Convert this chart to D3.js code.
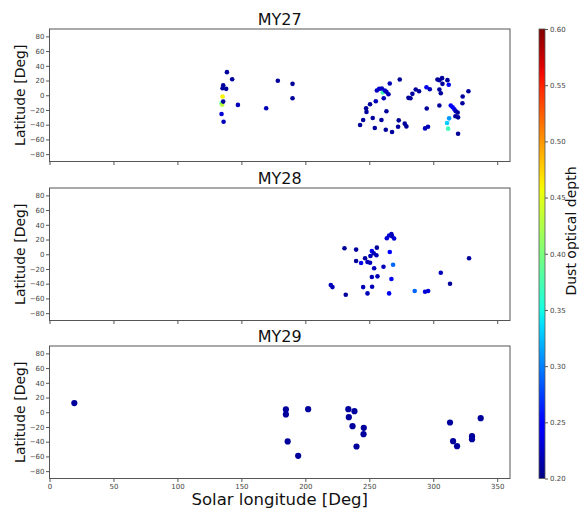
<!DOCTYPE html>
<html>
<head>
<meta charset="utf-8">
<script src="https://cdn.jsdelivr.net/npm/d3@7"></script>
<style>
  html, body { margin: 0; padding: 0; background: #fff; }
  svg { display: block; font-family: "DejaVu Sans", sans-serif; }
</style>
</head>
<body>
<svg id="chart" width="579" height="510"></svg>
<script>
// ---------- data ----------
const panelTitles = ["MY27", "MY28", "MY29"];
const xTicks = [0, 50, 100, 150, 200, 250, 300, 350];
const yTicks = [-80, -60, -40, -20, 0, 20, 40, 60, 80];
const cTicks = [0.20, 0.25, 0.30, 0.35, 0.40, 0.45, 0.50, 0.55, 0.60];

const lon27 = [138.7,142.8,135.8,135.3,138.1,135.3,134.5,135.0,135.8,147.3,134.5,136.1,178.5,190.0,190.0,169.4,
  273.8,266.0,260.5,255.9,257.7,259.8,262.1,263.4,265.0,261.3,255.1,250.6,247.5,247.8,263.4,245.2,242.8,252.7,259.5,
  254.3,262.9,267.8,272.5,273.0,277.7,279.0,280.6,282.2,283.7,286.3,288.9,294.7,297.3,294.9,293.6,295.9,
  303.3,304.8,306.9,311.1,307.2,312.1,304.8,305.9,304.8,327.5,323.0,322.8,313.7,315.2,316.5,317.6,319.1,317.3,319.4,
  312.4,310.8,311.6,319.4];
const lat27 = [31.4,21.8,13.6,9.5,8.7,-1.8,-10.9,-12.7,-8.6,-13.1,-25.4,-35.9,19.6,15.5,-4.1,-17.7,
  21.4,16.0,3.7,6.4,8.7,9.1,6.4,4.6,1.4,-4.1,-8.2,-12.3,-17.7,-22.6,-21.8,-33.6,-40.4,-30.9,-33.6,
  -44.5,-46.8,-50.0,-42.7,-34.1,-38.6,-42.3,-3.5,-4.1,1.9,7.8,5.5,10.9,8.2,-18.1,-45.0,-42.7,
  21.4,20.5,23.2,20.5,15.5,14.2,7.8,2.7,-14.0,5.5,-1.8,-10.9,-14.0,-16.4,-19.1,-21.8,-23.6,-28.6,-30.0,
  -31.4,-37.7,-45.4,-52.2];
const tau27 = [0.21,0.21,0.21,0.21,0.21,0.46,0.38,0.43,0.21,0.22,0.23,0.22,0.21,0.21,0.21,0.22,
  0.21,0.22,0.37,0.22,0.23,0.22,0.23,0.22,0.22,0.22,0.22,0.21,0.21,0.21,0.21,0.21,0.21,0.21,0.21,
  0.21,0.21,0.21,0.21,0.21,0.21,0.21,0.21,0.21,0.21,0.21,0.21,0.24,0.22,0.21,0.22,0.22,
  0.21,0.21,0.21,0.21,0.21,0.245,0.21,0.21,0.21,0.21,0.21,0.21,0.245,0.245,0.24,0.22,0.21,0.21,0.21,
  0.31,0.33,0.37,0.21];

const lon28 = [230.6,239.7,239.7,243.6,246.7,248.6,250.6,250.9,252.0,253.5,255.6,255.9,253.8,252.0,256.4,261.1,
  263.7,265.5,267.3,267.8,269.4,266.0,268.6,267.3,265.5,252.2,248.6,245.2,231.6,219.9,221.2,285.5,293.6,296.0,
  305.9,313.1,328.0];
const lat28 = [8.2,6.3,-9.1,-11.9,-5.5,-10.5,-11.5,-2.3,4.5,1.4,-1.4,9.0,-19.1,-31.0,-30.0,-16.9,
  21.8,25.4,27.3,24.6,21.3,3.1,-14.2,-33.7,-53.2,-44.2,-53.2,-44.6,-55.1,-41.9,-44.6,-50.0,-51.0,-50.0,
  -25.1,-40.1,-5.5];
const tau28 = [0.21,0.21,0.21,0.24,0.21,0.22,0.22,0.22,0.24,0.22,0.22,0.21,0.22,0.22,0.22,0.22,
  0.23,0.23,0.22,0.22,0.23,0.245,0.29,0.24,0.24,0.22,0.22,0.22,0.21,0.22,0.22,0.29,0.23,0.23,
  0.22,0.21,0.21];

const lon29 = [19.4,184.8,184.8,186.2,194.4,202.2,233.6,238.4,234.0,236.9,245.7,245.5,240.0,313.1,315.5,318.6,330.3,330.3,337.1];
const lat29 = [12.4,3.8,-3.0,-39.7,-59.2,4.2,4.2,1.5,-6.7,-18.9,-21.1,-29.8,-46.5,-13.9,-39.3,-46.1,-32.5,-36.6,-8.0];
const tau29 = [0.21,0.21,0.21,0.21,0.21,0.21,0.21,0.21,0.21,0.21,0.21,0.21,0.21,0.21,0.21,0.21,0.21,0.21,0.21];

const panels = [
  { title: panelTitles[0], lon: lon27, lat: lat27, tau: tau27, r: 2.3 },
  { title: panelTitles[1], lon: lon28, lat: lat28, tau: tau28, r: 2.3 },
  { title: panelTitles[2], lon: lon29, lat: lat29, tau: tau29, r: 3.1 }
];

// ---------- jet colormap ----------
const jetR = d3.scaleLinear().domain([0, 0.35, 0.66, 0.89, 1]).range([0, 0, 1, 1, 0.5]).clamp(true);
const jetG = d3.scaleLinear().domain([0, 0.125, 0.375, 0.64, 0.91, 1]).range([0, 0, 1, 1, 0, 0]).clamp(true);
const jetB = d3.scaleLinear().domain([0, 0.11, 0.34, 0.65, 1]).range([0.5, 1, 1, 0, 0]).clamp(true);
function jet(t) {
  return d3.rgb(jetR(t) * 255, jetG(t) * 255, jetB(t) * 255).formatHex();
}
const cNorm = d3.scaleLinear().domain([0.2, 0.6]).range([0, 1]).clamp(true);
const color = v => jet(cNorm(v));

// ---------- layout ----------
const svg = d3.select("#chart");
const left = 49.5, right = 510;
const panelTops = [29, 188, 346];
const panelH = 132.5;
const x = d3.scaleLinear().domain([0, 360]).range([left, right]);
const fmt = d => (d < 0 ? "\u2212" + Math.abs(d) : String(d));
const axisColor = "#555";
const tickFont = 7;

panels.forEach((p, i) => {
  const top = panelTops[i];
  const y = d3.scaleLinear().domain([-90, 90]).range([top + panelH, top]);
  const g = svg.append("g");

  // points
  const data = p.lon.map((lo, k) => ({ lon: lo, lat: p.lat[k], tau: p.tau[k] }));
  g.append("g").selectAll("circle").data(data).join("circle")
    .attr("cx", d => x(d.lon))
    .attr("cy", d => y(d.lat))
    .attr("r", p.r)
    .attr("fill", d => color(d.tau));

  // y axis
  const ya = g.append("g").attr("transform", `translate(${left},0)`)
    .call(d3.axisLeft(y).tickValues(yTicks).tickFormat(fmt).tickSize(3.5).tickPadding(1.5));
  ya.select(".domain").remove();
  ya.selectAll("line").attr("stroke", axisColor);
  ya.selectAll("text").attr("font-size", tickFont).attr("fill", "#444")
    .attr("font-family", "DejaVu Sans, sans-serif");

  // x axis
  const xa = g.append("g").attr("transform", `translate(0,${top + panelH})`)
    .call(d3.axisBottom(x).tickValues(xTicks).tickFormat(i === 2 ? fmt : () => "").tickSize(3.5).tickPadding(2));
  xa.select(".domain").remove();
  xa.selectAll("line").attr("stroke", axisColor);
  xa.selectAll("text").attr("font-size", tickFont).attr("fill", "#444")
    .attr("font-family", "DejaVu Sans, sans-serif");

  // frame
  g.append("rect").attr("x", left).attr("y", top).attr("width", right - left).attr("height", panelH)
    .attr("fill", "none").attr("stroke", axisColor).attr("stroke-width", 1);

  // title
  g.append("text").attr("x", (left + right) / 2).attr("y", top - 4)
    .attr("text-anchor", "middle").attr("font-size", 16).attr("fill", "#111").text(p.title);

  // y label
  g.append("text")
    .attr("transform", `translate(25,${top + panelH / 2}) rotate(-90)`)
    .attr("text-anchor", "middle").attr("font-size", 14).attr("fill", "#111")
    .text("Latitude [Deg]");
});

// x label
svg.append("text").attr("x", (left + right) / 2).attr("y", 505)
  .attr("text-anchor", "middle").attr("font-size", 16.5).attr("fill", "#111")
  .text("Solar longitude [Deg]");

// ---------- colorbar ----------
const cbX = 539, cbW = 6, cbTop = 29, cbBot = 478.5;
const defs = svg.append("defs");
const grad = defs.append("linearGradient").attr("id", "jetgrad")
  .attr("x1", 0).attr("y1", 1).attr("x2", 0).attr("y2", 0);
d3.range(0, 1.0001, 0.02).forEach(t => {
  grad.append("stop").attr("offset", t).attr("stop-color", jet(t));
});
svg.append("rect").attr("x", cbX).attr("y", cbTop).attr("width", cbW).attr("height", cbBot - cbTop)
  .attr("fill", "url(#jetgrad)").attr("stroke", axisColor).attr("stroke-width", 0.8);
const cy = d3.scaleLinear().domain([0.2, 0.6]).range([cbBot, cbTop]);
const ca = svg.append("g").attr("transform", `translate(${cbX + cbW},0)`)
  .call(d3.axisRight(cy).tickValues(cTicks).tickFormat(d3.format(".2f")).tickSize(3).tickPadding(2));
ca.select(".domain").remove();
ca.selectAll("line").attr("stroke", axisColor);
ca.selectAll("text").attr("font-size", tickFont).attr("fill", "#444")
  .attr("font-family", "DejaVu Sans, sans-serif");
svg.append("text")
  .attr("transform", `translate(576,231) rotate(-90)`)
  .attr("text-anchor", "middle").attr("font-size", 14).attr("fill", "#111")
  .text("Dust optical depth");
</script>
</body>
</html>
